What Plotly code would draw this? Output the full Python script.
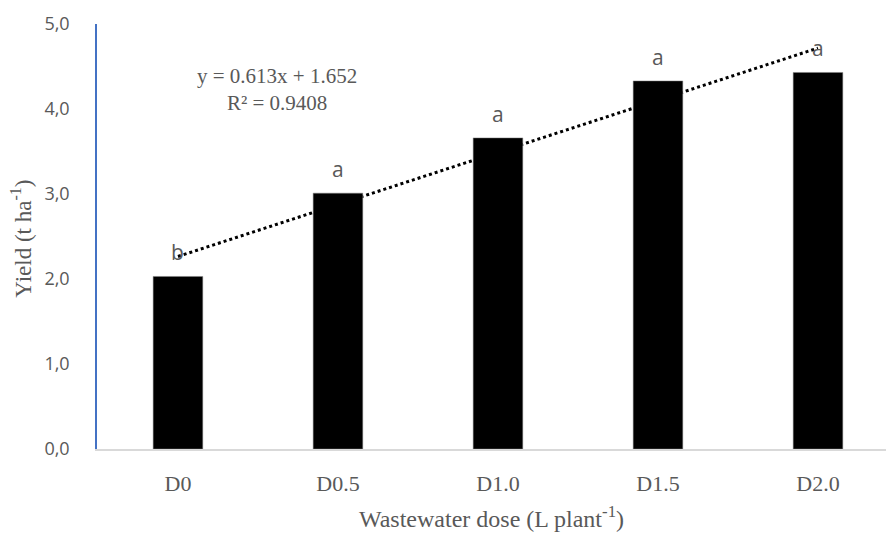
import plotly.graph_objects as go

categories = ["D0", "D0.5", "D1.0", "D1.5", "D2.0"]
yield_values = [2.03, 3.01, 3.66, 4.33, 4.43]
letters = ["b", "a", "a", "a", "a"]
slope = 0.613
intercept = 1.652
r2 = 0.9408
y_ticks = [0, 1, 2, 3, 4, 5]
y_tick_labels = ["0,0", "1,0", "2,0", "3,0", "4,0", "5,0"]

serif = "Liberation Serif, Times New Roman, serif"
sans = "Open Sans, Liberation Sans, sans-serif"
gray = "#595959"

n = len(categories)
xs = list(range(n))

fig = go.Figure()
fig.add_trace(go.Bar(
    x=xs, y=yield_values,
    marker=dict(color="black", line=dict(color="#808080", width=0.5)),
    width=0.31, showlegend=False, hoverinfo="skip",
))

for xi, yv, lt in zip(xs, yield_values, letters):
    fig.add_annotation(x=xi, y=yv, xref="x", yref="y", text=lt, showarrow=False,
                       yshift=24, font=dict(family=sans, size=21, color=gray))

fig.add_shape(type="line", xref="x", yref="y", layer="below",
              x0=0, y0=slope * 1 + intercept,
              x1=n - 1, y1=slope * n + intercept,
              line=dict(color="black", width=3, dash="dot"))

fig.add_annotation(x=0.62, y=4.235, xref="x", yref="y", showarrow=False,
                   text=f"y = {slope}x + {intercept}<br>R² = {r2}",
                   font=dict(family=serif, size=21, color=gray), align="center")

# y-axis title placed as rotated annotation
fig.add_annotation(x=-0.095, y=0.495, xref="paper", yref="paper", showarrow=False,
                   text="Yield (t ha<sup>-1</sup>)", textangle=-90,
                   xanchor="center", yanchor="middle",
                   font=dict(family=serif, size=23, color=gray))

fig.update_layout(
    width=886, height=536,
    margin=dict(l=97, r=0, t=24, b=87, autoexpand=False),
    plot_bgcolor="white", paper_bgcolor="white",
    xaxis=dict(
        range=[-0.506, 4.425],
        tickmode="array", tickvals=xs, ticktext=categories,
        tickfont=dict(family=serif, size=22, color=gray),
        showgrid=False, zeroline=False,
        showline=True, linecolor="#D9D9D9", linewidth=1.5,
        ticks="", ticklabelstandoff=14,
        title=dict(text="Wastewater dose (L plant<sup>-1</sup>)",
                   font=dict(family=serif, size=24, color=gray), standoff=15),
    ),
    yaxis=dict(
        range=[0, 5],
        tickmode="array", tickvals=y_ticks, ticktext=y_tick_labels,
        tickfont=dict(family=sans, size=18, color=gray),
        showgrid=False, zeroline=False,
        showline=True, linecolor="#4472C4", linewidth=1.5,
        ticks="", ticklabelstandoff=22,
    ),
)

fig.write_html("out.html", config={"displayModeBar": False},
               post_script="document.body.style.margin='0';document.body.style.overflow='hidden';")
